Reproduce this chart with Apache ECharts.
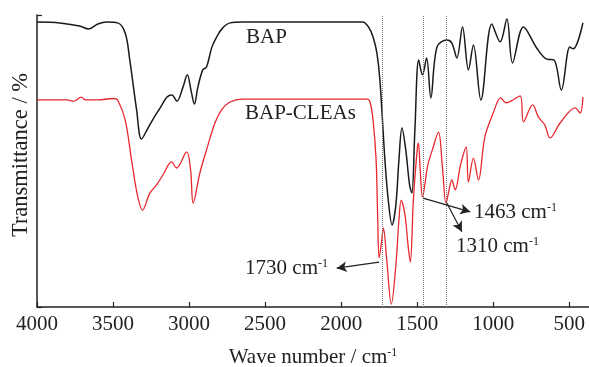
<!DOCTYPE html>
<html>
<head>
<meta charset="utf-8">
<script src="https://cdn.jsdelivr.net/npm/echarts@6/dist/echarts.min.js"></script>
<style>
  html, body { margin: 0; padding: 0; background: #fff; }
  #ftir { width: 589px; height: 367px; }
</style>
</head>
<body>
<div id="ftir"></div>
<script>
// wave numbers (cm-1) and transmittance (relative, 0-100)
const bapWave = [4000, 3850, 3720, 3660, 3600, 3540, 3470, 3420, 3390, 3345, 3313, 3270, 3225, 3190, 3145, 3113, 3080, 3040, 3012, 2985, 2965, 2942, 2910, 2885, 2850, 2818, 2780, 2730, 2650, 1860, 1820, 1790, 1765, 1745, 1712, 1690, 1665, 1640, 1620, 1600, 1575, 1550, 1535, 1515, 1490, 1465, 1438, 1410, 1370, 1305, 1272, 1239, 1202, 1163, 1130, 1081, 1009, 954, 910, 873, 801, 714, 648, 600, 552, 496, 474, 410];
const bapValue = [97.6, 97.3, 96.2, 95.2, 96.9, 97.6, 97.3, 93.8, 84.6, 67.5, 57.5, 61.3, 65.4, 68.2, 71.9, 72.6, 70.5, 75.3, 79.5, 73.6, 69.5, 75.3, 81.2, 82.2, 89.0, 92.5, 95.5, 97.3, 97.6, 97.6, 95.9, 92.5, 87.0, 77.7, 50.3, 36.6, 28.1, 35.0, 50.3, 61.3, 53.8, 41.8, 39.0, 60.6, 84.6, 79.5, 85.3, 71.6, 89.0, 91.4, 90.4, 85.3, 95.9, 81.2, 89.7, 70.9, 96.9, 90.8, 98.6, 83.6, 95.9, 88.7, 84.9, 84.6, 74.3, 89.0, 88.4, 97.3];

const cleaWave = [4000, 3800, 3760, 3740, 3710, 3680, 3600, 3500, 3470, 3420, 3378, 3340, 3306, 3258, 3214, 3172, 3115, 3082, 3016, 2990, 2973, 2929, 2885, 2830, 2786, 2731, 2650, 1830, 1810, 1790, 1770, 1760, 1750, 1735, 1722, 1700, 1670, 1640, 1620, 1605, 1580, 1560, 1545, 1525, 1500, 1492, 1480, 1465, 1430, 1400, 1360, 1335, 1310, 1290, 1272, 1250, 1215, 1178, 1163, 1130, 1097, 1055, 1000, 951, 915, 823, 801, 740, 703, 660, 626, 560, 461, 428, 410];
const cleaValue = [70.9, 70.9, 70.5, 70.9, 71.9, 70.9, 70.9, 71.4, 70.9, 64.0, 50.3, 38.4, 33.2, 39.0, 41.8, 45.2, 49.7, 47.6, 53.1, 47.0, 35.6, 45.9, 53.8, 63.0, 67.5, 70.2, 71.2, 71.2, 70.2, 64.0, 50.3, 31.5, 16.8, 22.0, 27.0, 16.1, 1.0, 14.4, 29.8, 36.6, 31.5, 21.2, 15.4, 36.6, 53.8, 56.2, 47.0, 37.7, 48.6, 53.8, 59.9, 48.6, 35.6, 40.1, 43.5, 40.1, 48.6, 54.8, 42.8, 51.0, 43.5, 58.2, 66.4, 71.6, 69.9, 72.3, 63.4, 69.2, 65.1, 62.3, 57.9, 63.0, 68.2, 66.4, 71.9];

const xTicks = [4000, 3500, 3000, 2500, 2000, 1500, 1000, 500];
const peakLines = [1730, 1463, 1310];
// arrows: [start wave, start value, end wave, end value]
const arrows = [
  [1750, 15.4, 2029, 13.3],
  [1461, 37.3, 1151, 32.6],
  [1305, 35.6, 1206, 25.8]
];

const serif = 'Liberation Serif';
const sup = { fontSize: 12, fontFamily: serif, color: '#222', verticalAlign: 'top', padding: [0, 0, 7, 0] };

function pairs(w, v) {
  return w.map((x, i) => [x, v[i]]);
}

const chart = echarts.init(document.getElementById('ftir'));

const option = {
  animation: false,
  grid: { left: 37, right: 0, top: 15, bottom: 60, outerBoundsMode: 'none', containLabel: false },
  xAxis: {
    type: 'value',
    inverse: true,
    min: 370,
    max: 4000,
    splitLine: { show: false },
    axisLine: { lineStyle: { color: '#222', width: 1.5 } },
    axisTick: { inside: true, length: 5, customValues: xTicks, lineStyle: { color: '#222', width: 1.2 } },
    axisLabel: {
      customValues: xTicks, margin: 7, fontFamily: serif, fontSize: 21, color: '#222',
      formatter: v => String(v)
    },
    name: 'Wave number / cm{sup|-1}',
    nameLocation: 'middle',
    nameGap: 40,
    nameTextStyle: { fontFamily: serif, fontSize: 21, color: '#222', rich: { sup: sup } }
  },
  yAxis: {
    type: 'value',
    min: 0,
    max: 100,
    interval: 100,
    splitLine: { show: false },
    axisLine: { show: true, lineStyle: { color: '#222', width: 1.5 } },
    axisTick: { show: true, inside: true, length: 5, lineStyle: { color: '#222', width: 1.2 } },
    axisLabel: { show: false }
  },
  series: [
    {
      name: 'BAP',
      type: 'line',
      data: pairs(bapWave, bapValue),
      smooth: 0.35,
      showSymbol: false,
      lineStyle: { color: '#1a1a1a', width: 1.5 },
      markLine: {
        silent: true,
        symbol: 'none',
        label: { show: false },
        lineStyle: { color: '#777', type: 'dotted', width: 1 },
        data: peakLines.map(w => ({ xAxis: w }))
      }
    },
    {
      name: 'BAP-CLEAs',
      type: 'line',
      data: pairs(cleaWave, cleaValue),
      smooth: 0.35,
      showSymbol: false,
      lineStyle: { color: '#e8272c', width: 1.3 },
      markLine: {
        silent: true,
        symbol: ['none', 'arrow'],
        symbolSize: [8, 10],
        label: { show: false },
        lineStyle: { color: '#222', type: 'solid', width: 1.2 },
        data: arrows.map(a => [{ coord: [a[0], a[1]] }, { coord: [a[2], a[3]] }])
      }
    }
  ],
  graphic: [
    {
      type: 'text', x: 21, y: 155, rotation: Math.PI / 2,
      style: { text: 'Transmittance / %', fontFamily: serif, fontSize: 22.5, fill: '#222', align: 'center', verticalAlign: 'middle' }
    },
    {
      type: 'text', x: 246, y: 37,
      style: { text: 'BAP', fontFamily: serif, fontSize: 21, fill: '#222', verticalAlign: 'middle' }
    },
    {
      type: 'text', x: 245, y: 113,
      style: { text: 'BAP-CLEAs', fontFamily: serif, fontSize: 21, fill: '#222', verticalAlign: 'middle' }
    },
    {
      type: 'text', x: 328, y: 268,
      style: { text: '1730 cm{sup|-1}', fontFamily: serif, fontSize: 21, fill: '#222', align: 'right', verticalAlign: 'middle', rich: { sup: sup } }
    },
    {
      type: 'text', x: 474, y: 212,
      style: { text: '1463 cm{sup|-1}', fontFamily: serif, fontSize: 21, fill: '#222', verticalAlign: 'middle', rich: { sup: sup } }
    },
    {
      type: 'text', x: 456, y: 246,
      style: { text: '1310 cm{sup|-1}', fontFamily: serif, fontSize: 21, fill: '#222', verticalAlign: 'middle', rich: { sup: sup } }
    }
  ]
};

chart.setOption(option);
</script>
</body>
</html>
